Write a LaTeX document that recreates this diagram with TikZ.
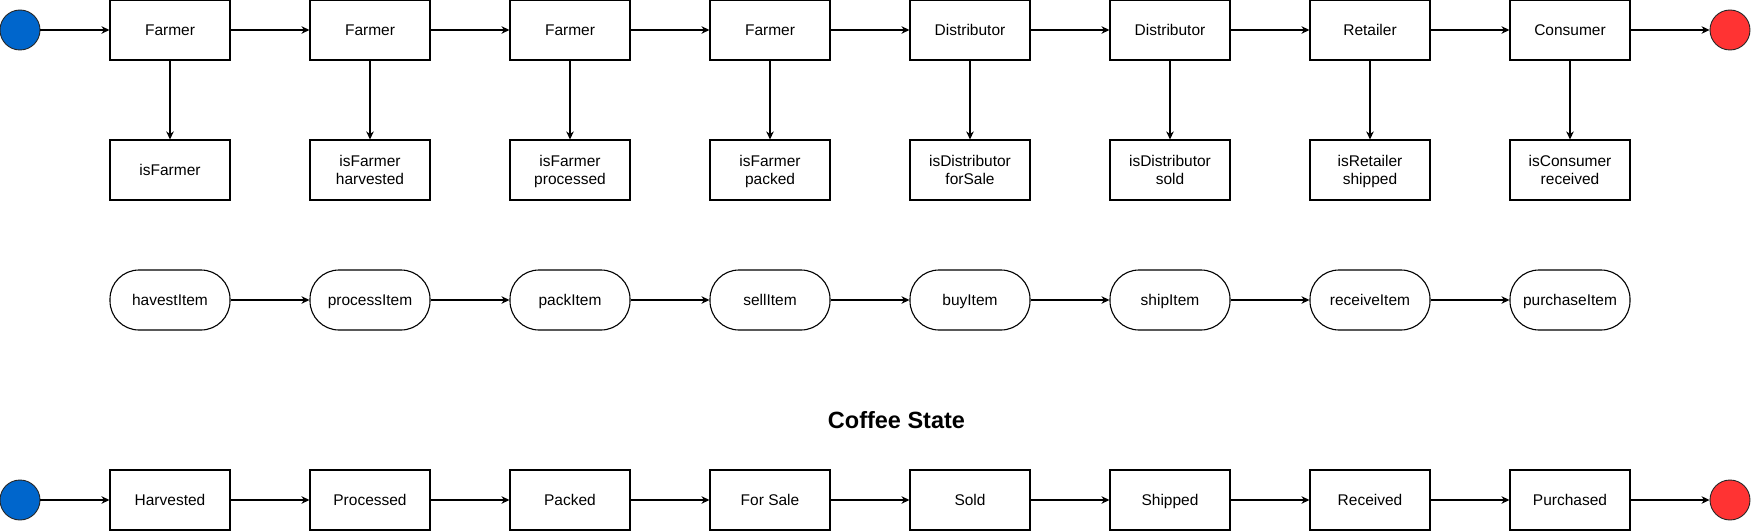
\documentclass[tikz,border=0pt]{standalone}
\usepackage{fontspec}
\setmainfont{Liberation Sans}
\usetikzlibrary{arrows.meta}
\definecolor{startblue}{HTML}{0066CC}
\definecolor{endred}{HTML}{FF3333}
\begin{document}
\begin{tikzpicture}[x=1pt,y=-1pt,
  box/.style={draw, line width=1.1pt, minimum width=120pt, minimum height=60pt,
    inner sep=0pt, align=center, text depth=0pt, font=\fontsize{15.5}{18.6}\selectfont},
  pill/.style={box, rounded corners=29pt},
  dot/.style={circle, draw=black!85, line width=0.9pt, minimum size=40pt, inner sep=0pt},
  startdot/.style={dot, fill=startblue},
  enddot/.style={dot, fill=endred},
  title/.style={font=\fontsize{23.5}{28}\selectfont\bfseries, inner sep=0pt},
  arr/.style={-{Stealth[length=8pt,width=7.5pt,inset=2.5pt]}, line width=1.1pt}
]
\useasboundingbox (0,0) rectangle (1751,532);

% top row: actors
\foreach \i/\t in {0/Farmer,1/Farmer,2/Farmer,3/Farmer,4/Distributor,5/Distributor,6/Retailer,7/Consumer}
  \node[box] (a\i) at ({170+200*\i},30) {\t};
% role/state boxes
\foreach \i/\t in {0/{isFarmer},1/{isFarmer\\harvested},2/{isFarmer\\processed},3/{isFarmer\\packed},
                   4/{isDistributor\\forSale},5/{isDistributor\\sold},6/{isRetailer\\shipped},7/{isConsumer\\received}}
  \node[box] (r\i) at ({170+200*\i},170) {\t};
% functions
\foreach \i/\t in {0/havestItem,1/processItem,2/packItem,3/sellItem,4/buyItem,5/shipItem,6/receiveItem,7/purchaseItem}
  \node[pill] (f\i) at ({170+200*\i},300) {\t};
% states
\foreach \i/\t in {0/Harvested,1/Processed,2/Packed,3/For Sale,4/Sold,5/Shipped,6/Received,7/Purchased}
  \node[box] (s\i) at ({170+200*\i},500) {\t};

\node[startdot] (st1) at (20,30) {};
\node[enddot] (en1) at (1730,30) {};
\node[startdot] (st2) at (20,500) {};
\node[enddot] (en2) at (1730,500) {};

\node[title] (ttl) at (896.5,420) {Coffee State};

\draw[arr] (st1) -- (a0);
\draw[arr] (a7) -- (en1);
\draw[arr] (st2) -- (s0);
\draw[arr] (s7) -- (en2);
\foreach \i in {0,...,7}
  \draw[arr] (a\i) -- (r\i);
\foreach \i [evaluate=\i as \j using int(\i+1)] in {0,...,6} {
  \draw[arr] (a\i) -- (a\j);
  \draw[arr] (f\i) -- (f\j);
  \draw[arr] (s\i) -- (s\j);
}
\end{tikzpicture}
\end{document}
